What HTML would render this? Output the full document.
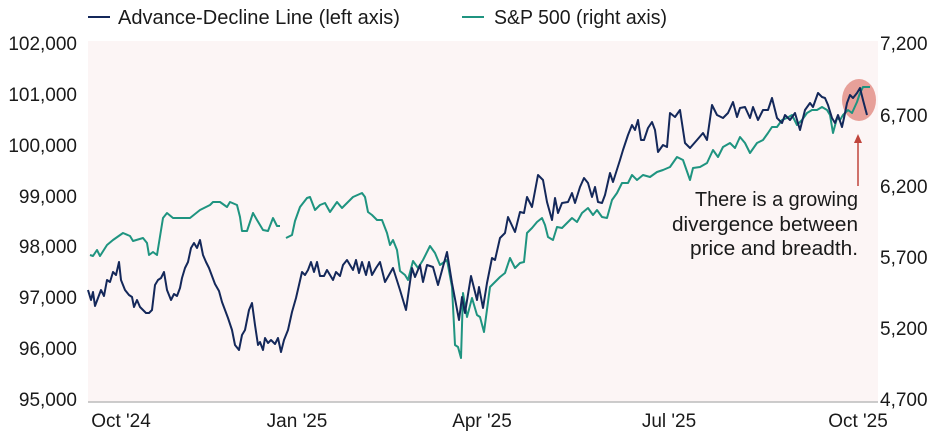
<!DOCTYPE html>
<html><head><meta charset="utf-8"><style>
body{margin:0;background:#fff;width:941px;height:433px;overflow:hidden}
svg text{font-family:"Liberation Sans",sans-serif;fill:#1a1a1a}
</style></head><body>
<svg width="941" height="433" viewBox="0 0 941 433">
<rect x="88" y="41" width="790" height="361" fill="#fcf5f5"/>
<line x1="88" y1="402" x2="878" y2="402" stroke="#bbb" stroke-width="1.5"/>
<g font-size="19" text-anchor="end">
<text x="77" y="50">102,000</text><text x="77" y="101">101,000</text><text x="77" y="152">100,000</text>
<text x="77" y="203">99,000</text><text x="77" y="253">98,000</text><text x="77" y="304">97,000</text>
<text x="77" y="355">96,000</text><text x="77" y="406">95,000</text>
</g>
<g font-size="19" text-anchor="start">
<text x="880" y="50">7,200</text><text x="880" y="122">6,700</text><text x="880" y="193">6,200</text>
<text x="880" y="264">5,700</text><text x="880" y="335">5,200</text><text x="880" y="406">4,700</text>
</g>
<g font-size="19" text-anchor="middle">
<text x="121" y="427">Oct '24</text><text x="297" y="427">Jan '25</text><text x="482" y="427">Apr '25</text>
<text x="669" y="427">Jul '25</text><text x="858" y="427">Oct '25</text>
</g>
<line x1="88" y1="17" x2="110" y2="17" stroke="#14285a" stroke-width="2"/>
<text x="118" y="24" font-size="20" textLength="282" lengthAdjust="spacingAndGlyphs">Advance-Decline Line (left axis)</text>
<line x1="462" y1="17" x2="484" y2="17" stroke="#1f9480" stroke-width="2"/>
<text x="494" y="24" font-size="20" textLength="173" lengthAdjust="spacingAndGlyphs">S&amp;P 500 (right axis)</text>
<ellipse cx="859" cy="100" rx="17" ry="21" fill="#e0837a" opacity="0.75"/>
<g fill="none" stroke-width="2" stroke-linejoin="round">
<polyline stroke="#1f9480" points="90,255 93,256 97,250 100,256 107,245 113,240 123,233 130,236 133,241 143,238 147,243 149,255 153,252 157,255 163,218 167,213 173,218 190,218 200,210 210,205 213,202 220,202 227,207 230,202 237,205 240,217 242,231 247,231 253,213 257,220 263,230 268,231 273,218 277,226 280,226"/>
<polyline stroke="#1f9480" points="286,238 292,235 295,221 300,207 307,198 310,197 315,210 320,205 325,203 330,212 337,202 342,208 348,202 353,197 362,193 365,197 368,212 372,215 377,220 382,220 387,233 390,245 393,240 397,250 400,271 405,275 408,280 413,261 418,268 423,260 430,246 435,253 440,265 447,260 452,287 455,345 458,347 461,358 463,293 467,317 472,298 477,315 480,317 484,332 490,287 495,282 500,277 505,273 510,258 515,268 520,263 524,262 527,233 532,228 537,222 542,218 545,225 548,237 553,240 557,227 562,228 567,223 572,218 577,222 582,213 588,208 593,215 597,210 602,217 607,218 612,200 617,193 622,183 628,183 632,175 637,180 643,175 650,177 657,172 663,170 670,167 677,157 683,160 690,180 693,168 700,167 707,163 713,150 718,157 723,147 730,143 735,148 740,137 745,143 750,153 757,143 763,140 768,133 772,127 777,127 782,120 787,118 792,115 797,125 802,120 807,113 812,110 817,110 822,107 827,110 830,115 833,133 837,118 840,120 843,115 848,110 852,113 857,102 860,93 863,87 870,87"/>
<polyline stroke="#14285a" points="88,290 91,300 93,292 95,306 98,298 101,290 104,296 107,280 110,282 113,272 116,275 119,262 121,280 125,290 129,295 132,297 134,307 137,300 140,307 143,310 146,313 149,313 152,310 155,285 158,280 161,278 164,272 167,290 171,300 174,294 177,296 180,288 182,278 185,268 188,262 191,248 194,243 197,248 200,240 203,255 206,262 209,268 212,276 215,284 219,291 222,302 225,310 228,318 232,330 235,345 239,350 242,335 245,330 249,310 252,303 255,325 258,345 260,342 263,350 265,338 268,343 271,340 275,344 278,338 281,352 284,340 288,330 292,312 296,298 299,285 302,272 305,275 308,270 311,262 314,272 317,262 320,276 324,276 327,270 330,275 333,280 336,272 340,276 343,265 347,260 350,265 353,270 356,260 359,273 362,262 366,275 369,262 372,275 376,268 380,262 385,282 393,268 400,290 406,310 412,268 415,277 420,265 423,282 427,265 433,267 438,285 447,252 452,283 459,320 462,297 465,313 471,276 477,300 479,287 483,308 487,283 492,258 495,260 500,238 505,233 508,217 515,232 520,212 524,213 527,197 532,207 538,175 543,180 547,202 552,220 555,198 558,213 562,203 568,202 572,193 575,203 580,187 584,178 588,183 592,197 595,187 598,202 602,203 605,195 610,173 613,182 620,160 623,150 628,135 632,125 635,130 638,120 641,140 644,140 648,128 652,122 655,130 658,152 663,145 667,147 670,113 675,117 680,110 685,143 690,148 697,140 703,133 707,140 712,105 717,115 723,118 728,113 733,102 737,117 740,108 745,107 750,118 753,107 758,120 763,110 768,110 772,98 777,118 782,123 785,115 790,120 795,113 800,130 805,110 810,103 813,107 818,93 822,97 825,98 828,105 832,118 835,123 838,115 842,127 844,118 847,103 850,95 853,98 857,93 860,88 863,100 867,115"/>
</g>
<line x1="858" y1="186" x2="858" y2="142" stroke="#c0453c" stroke-width="1.5"/>
<polygon points="858,134 854,143 862,143" fill="#c0453c"/>
<g font-size="20">
<text x="695" y="206" textLength="163" lengthAdjust="spacingAndGlyphs">There is a growing</text>
<text x="672" y="231" textLength="186" lengthAdjust="spacingAndGlyphs">divergence between</text>
<text x="690" y="255" textLength="168" lengthAdjust="spacingAndGlyphs">price and breadth.</text>
</g>
</svg>
</body></html>
